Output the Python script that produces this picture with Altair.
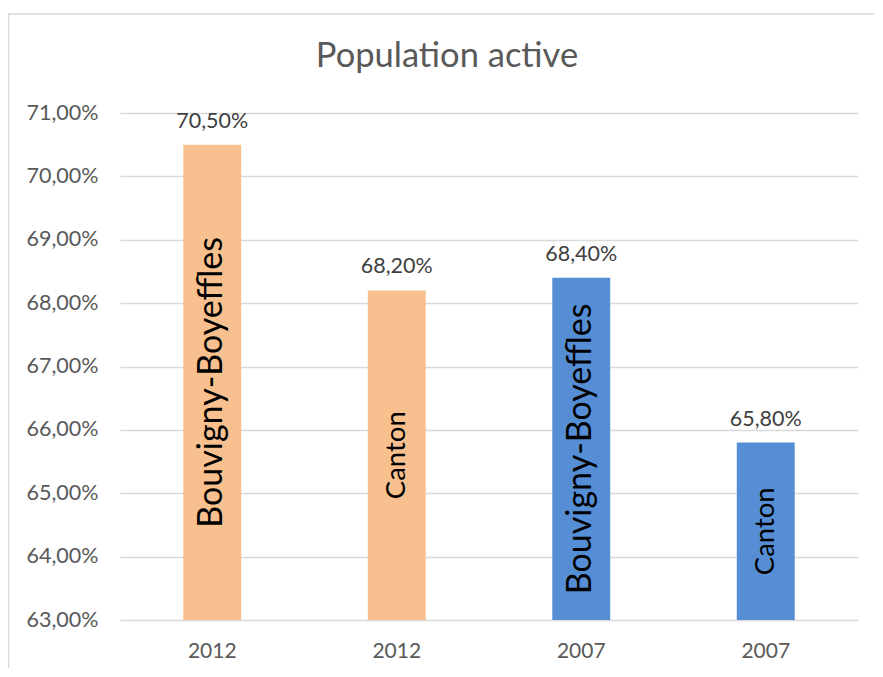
import altair as alt
import pandas as pd

TITLE = "Population active"
years = ["2012", "2012", "2007", "2007"]
places = ["Bouvigny-Boyeffles", "Canton", "Bouvigny-Boyeffles", "Canton"]
values = [70.5, 68.2, 68.4, 65.8]
y_ticks = [63, 64, 65, 66, 67, 68, 69, 70, 71]
Y_MIN, Y_MAX = 63, 71
color_years = ["2012", "2007"]
color_range = ["#F8C08F", "#558ED5"]

W, H = 738, 507
FONT = "Lato"

df = pd.DataFrame({
    "key": [f"{y} {p} {i}" for i, (y, p) in enumerate(zip(years, places))],
    "year": years,
    "place": places,
    "value": values,
})

x_enc = alt.X(
    "key:N",
    sort=None,
    scale=alt.Scale(paddingInner=0.686, paddingOuter=0.343),
    axis=alt.Axis(
        title=None,
        labelExpr="split(datum.label, ' ')[0]",
        labelAngle=0,
        labelFontSize=21,
        labelColor="#595959",
        labelFont=FONT,
        labelPadding=20,
        ticks=False,
        domain=False,
        grid=False,
    ),
)
y_scale = alt.Scale(domain=[Y_MIN, Y_MAX], zero=False, nice=False)

base = alt.Chart(df)

bars = base.mark_bar().encode(
    x=x_enc,
    y=alt.Y(
        "value:Q",
        scale=y_scale,
        axis=alt.Axis(
            title=None,
            values=y_ticks,
            labelExpr="replace(format(datum.value, '.2f'), '.', ',') + '%'",
            labelFontSize=21.5,
            labelColor="#595959",
            labelFont=FONT,
            labelPadding=22,
            ticks=False,
            domain=False,
            grid=True,
            gridColor="#D9D9D9",
            gridWidth=1.5,
        ),
    ),
    y2=alt.datum(Y_MIN),
    color=alt.Color(
        "year:N",
        scale=alt.Scale(domain=color_years, range=color_range),
        legend=None,
    ),
)

value_labels = base.mark_text(
    baseline="alphabetic", dy=-17, fontSize=21.5, color="#404040", font=FONT
).encode(
    x=x_enc,
    y=alt.Y("value:Q", scale=y_scale),
    text=alt.Text("vlabel:N"),
).transform_calculate(
    vlabel="replace(format(datum.value, '.2f'), '.', ',') + '%'"
)

inside_labels = base.mark_text(
    angle=270, baseline="middle", align="center", color="#000000", font=FONT
).encode(
    x=x_enc,
    y=alt.Y("mid:Q", scale=y_scale),
    text="place:N",
    size=alt.condition(alt.datum.place == "Canton", alt.value(27.5), alt.value(34)),
).transform_calculate(mid=f"({Y_MIN} + datum.value) / 2")

title_df = pd.DataFrame({"t": [TITLE]})
title = alt.Chart(title_df).mark_text(
    fontSize=34.5, color="#595959", font=FONT, baseline="middle", align="center"
).encode(x=alt.value(327), y=alt.value(-56), text="t:N")

border_df = pd.DataFrame({"b": [0]})
border_left = alt.Chart(border_df).mark_rule(color="#D9D9D9", strokeWidth=1.5).encode(
    x=alt.value(-111.5), y=alt.value(-99), y2=alt.value(H + 48)
)
border_top = alt.Chart(border_df).mark_rule(color="#D9D9D9", strokeWidth=1.5).encode(
    x=alt.value(-112), x2=alt.value(W + 16), y=alt.value(-99)
)

chart = alt.layer(
    border_left, border_top, bars, value_labels, inside_labels, title
).properties(
    width=W,
    height=H,
    autosize=alt.AutoSizeParams(type="none"),
    padding={"left": 112, "top": 105, "right": 16, "bottom": 48},
    background="white",
).configure_view(stroke=None)

chart.save("out.html", embed_options={"renderer": "svg", "actions": False})
